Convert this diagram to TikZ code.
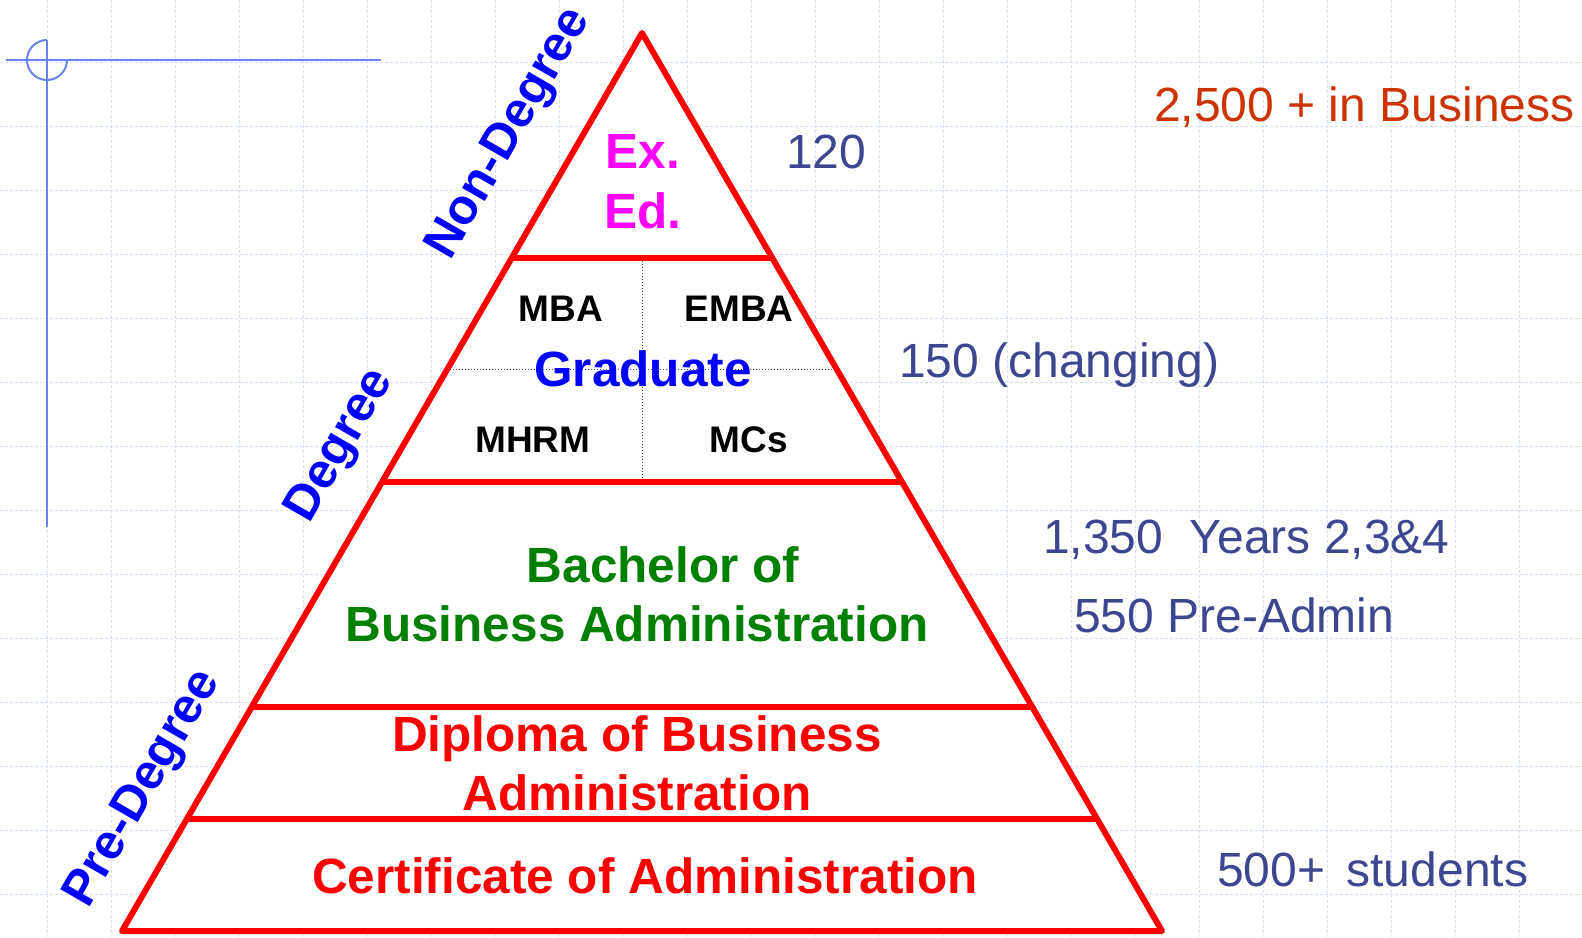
\documentclass[tikz,border=0pt]{standalone}
\usepackage{fontspec}
\setmainfont{Liberation Sans}
\usetikzlibrary{calc}
\definecolor{gridblue}{RGB}{214,224,250}
\definecolor{markblue}{RGB}{104,132,240}
\definecolor{numblue}{RGB}{62,70,143}
\definecolor{orangered}{RGB}{204,51,0}
\definecolor{darkgreen}{RGB}{0,128,0}
\definecolor{exmagenta}{RGB}{255,0,255}
\tikzset{
  gridline/.style={gridblue, line width=1pt, dash pattern=on 3pt off 2pt},
  tier/.style={red, line width=6pt, line join=round},
  divider/.style={black!70, dotted, line width=1pt},
  bigtext/.style={font=\fontsize{49.5}{52}\selectfont\bfseries, inner sep=0pt, anchor=base},
  smalltext/.style={font=\fontsize{37}{39}\selectfont\bfseries, inner sep=0pt, anchor=base},
  sidetext/.style={font=\fontsize{48}{50}\selectfont, numblue, inner sep=0pt, anchor=base west},
  bandtext/.style={font=\fontsize{49.5}{52}\selectfont\bfseries, blue, rotate=60, inner sep=0pt},
}
\begin{document}
\begin{tikzpicture}[x=1pt, y=-1pt]
    \fill[white] (0,0) rectangle (1582,937);
    \useasboundingbox (0,0) rectangle (1582,937);
    % background grid
    \foreach \gx in {47,111,...,1519} \draw[gridline] (\gx,0) -- (\gx,937);
    \foreach \gy in {62,126,...,894} \draw[gridline] (0,\gy) -- (1582,\gy);
    % corner mark
    \draw[markblue, line width=2pt] (6,60) -- (381,60);
    \draw[markblue, line width=2pt] (47,40) -- (47,527);
    \draw[markblue, line width=2pt] (47,40) arc[start angle=270, end angle=0, radius=20];
    % pyramid
    \coordinate (apex) at (642,33);
    \coordinate (bl) at (122,931);
    \coordinate (br) at (1162,931);
    \foreach \t/\n in {0.25/a, 0.375/m, 0.5/b, 0.75/c, 0.875/d} {
        \coordinate (l\n) at ($(apex)!\t!(bl)$);
        \coordinate (r\n) at ($(apex)!\t!(br)$);
    }
    \fill[white] (apex) -- (bl) -- (br) -- cycle;
    \draw[divider] ($(la)!0.5!(ra)$) -- ($(lb)!0.5!(rb)$);
    \draw[divider] (lm) -- (rm);
    \draw[tier] (apex) -- (bl) -- (br) -- cycle;
    \foreach \n in {a,b,c,d} \draw[tier] (l\n) -- (r\n);
    % tiers
    \node[bigtext, exmagenta] (ex) at (643,168) {Ex.};
    \node[bigtext, exmagenta] (ed) at (643,228) {Ed.};
    \node[smalltext] (mba) at (561,321) {MBA};
    \node[smalltext] (emba) at (739,321) {EMBA};
    \node[bigtext, blue] (grad) at (643,386) {Graduate};
    \node[smalltext] (mhrm) at (533,452) {MHRM};
    \node[smalltext] (mcs) at (749,452) {MCs};
    \node[bigtext, darkgreen] (bach) at (663,582) {Bachelor of};
    \node[bigtext, darkgreen] (bba) at (637,641) {Business Administration};
    \node[bigtext, red] (dip) at (637,751) {Diploma of Business};
    \node[bigtext, red] (dipadm) at (637,810) {Administration};
    \node[bigtext, red] (cert) at (645,893) {Certificate of Administration};
    % bands
    \node[bandtext] (nondeg) at (510,134) {Non-Degree};
    \node[bandtext] (deg) at (341,446) {Degree};
    \node[bandtext] (predeg) at (144,789) {Pre-Degree};
    % numbers
    \node[sidetext, orangered] (total) at (1154,121) {2,500 + in Business};
    \node[sidetext] (n120) at (786,168) {120};
    \node[sidetext] (n150) at (899,377) {150 (changing)};
    \node[sidetext] (n1350) at (1043,553) {1,350\ \ Years 2,3\&4};
    \node[sidetext] (n550) at (1074,632) {550 Pre-Admin};
    \node[sidetext] (n500) at (1217,886) {500+\ \,students};
\end{tikzpicture}
\end{document}
